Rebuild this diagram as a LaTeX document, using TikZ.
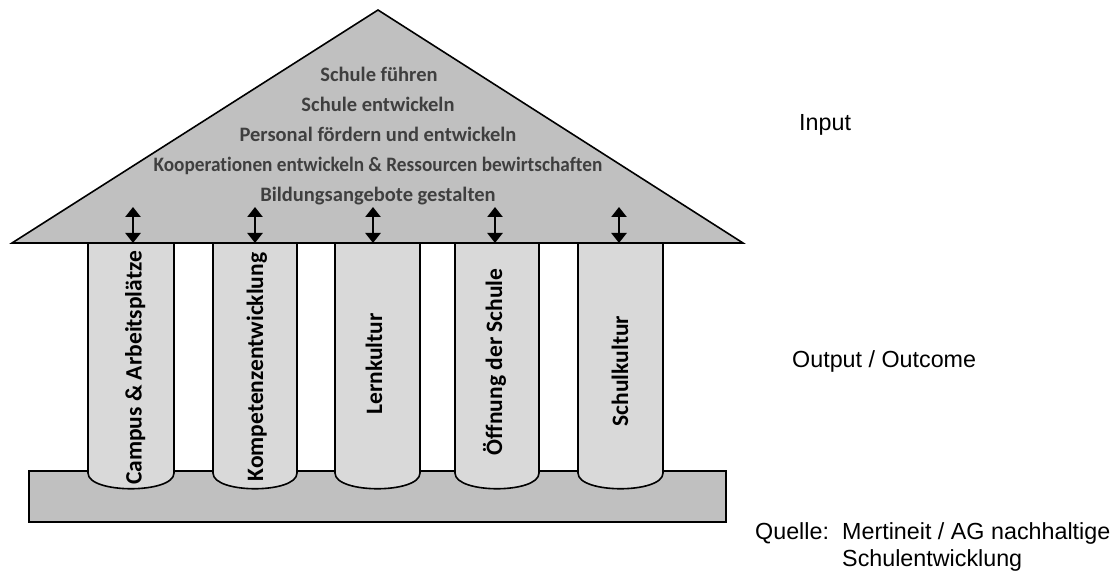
\documentclass[tikz,border=0pt]{standalone}
\usepackage{fontspec}
\setmainfont[Ligatures={NoCommon}]{Carlito}
\newfontfamily\arialfont{Liberation Sans}
\usetikzlibrary{arrows.meta}
\definecolor{roofgray}{HTML}{C0C0C0}
\definecolor{colgray}{HTML}{D9D9D9}
\definecolor{txtgray}{HTML}{3F3F3F}
\begin{document}
\begin{tikzpicture}[x=1pt,y=-1pt,
  outline/.style={draw=black, line width=1.6pt, line join=miter},
  rooftext/.style={anchor=base, font=\fontsize{20.5}{24}\selectfont\bfseries, text=txtgray, inner sep=0pt},
  coltext/.style={anchor=base, rotate=90, font=\fontsize{23.5}{26}\selectfont\bfseries, inner sep=0pt},
  sidetext/.style={anchor=base west, font=\arialfont\fontsize{23.3}{27}\selectfont, inner sep=0pt},
  link/.style={line width=2.8pt, {Triangle[length=10pt,width=15pt]}-{Triangle[length=10pt,width=15pt]}}
]
\useasboundingbox (0,0) rectangle (1114,572);

% base plate
\draw[outline, fill=roofgray] (29,471) rectangle (726,522);

% columns
\foreach \l/\r in {88/174, 213/297, 335/420, 455/539, 578/663}{
  \draw[outline, fill=colgray] (\l,243) -- (\l,473) .. controls (\l,494) and (\r,494) .. (\r,473) -- (\r,243);
}

% roof
\draw[outline, fill=roofgray] (12,243) -- (378,10) -- (743,243) -- cycle;

% roof text
\node[rooftext] (r1) at (379,82) {Schule führen};
\node[rooftext] (r2) at (378,112) {Schule entwickeln};
\node[rooftext] (r3) at (378,142) {Personal fördern und entwickeln};
\node[rooftext] (r4) at (378,172) {\scalebox{0.94}[1]{Kooperationen entwickeln \& Ressourcen bewirtschaften}};
\node[rooftext] (r5) at (378,202) {Bildungsangebote gestalten};

% column text
\node[coltext] (c1) at (141.5,368) {Campus \& Arbeitsplätze};
\node[coltext] (c2) at (263,367) {Kompetenzentwicklung};
\node[coltext] (c3) at (382,364) {Lernkultur};
\node[coltext] (c4) at (502,362) {Öffnung der Schule};
\node[coltext] (c5) at (628,371) {Schulkultur};

% arrows
\foreach \i/\x in {1/133, 2/255, 3/373, 4/495, 5/619}{
  \coordinate (at\i) at (\x,207);
  \coordinate (ab\i) at (\x,243);
  \draw[link] (at\i) -- (ab\i);
}

% side labels
\node[sidetext] (input) at (799,131) {Input};
\node[sidetext] (output) at (792,367) {Output / Outcome};
\node[sidetext] (quelle) at (755,539) {Quelle:};
\node[sidetext] (src1) at (842,539) {Mertineit / AG nachhaltige};
\node[sidetext] (src2) at (842,566) {Schulentwicklung};
\end{tikzpicture}
\end{document}
